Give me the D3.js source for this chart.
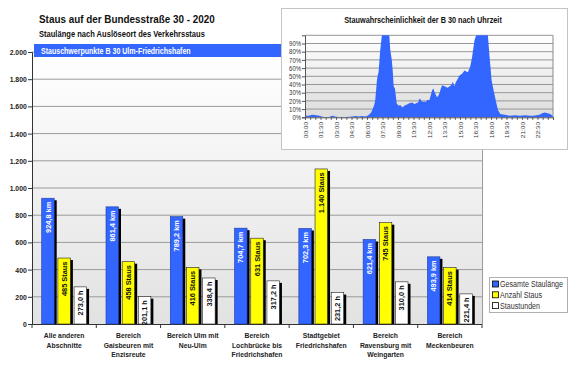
<!DOCTYPE html>
<html><head><meta charset="utf-8">
<script src="https://cdn.jsdelivr.net/npm/d3@7"></script>
<style>body{margin:0;background:#fff} svg{display:block;font-family:"Liberation Sans",Arial,sans-serif}</style>
</head><body><svg id="c" width="578" height="369"></svg>
<script>
// ---------- data ----------
const categories = ["Alle anderen|Abschnitte", "Bereich|Gaisbeuren mit|Enzisreute", "Bereich Ulm mit|Neu-Ulm",
  "Bereich|Lochbrücke bis|Friedrichshafen", "Stadtgebiet|Friedrichshafen", "Bereich|Ravensburg mit|Weingarten", "Bereich|Meckenbeuren"];
const seriesNames = ["Gesamte Staulänge", "Anzahl Staus", "Staustunden"];
const staulaenge = [924.8, 861.4, 789.2, 704.7, 702.3, 621.4, 493.9];
const anzahlStaus = [485, 458, 416, 631, 1140, 745, 414];
const staustunden = [273.0, 201.1, 338.4, 317.2, 231.2, 310.0, 221.4];
const yTicks = [0, 200, 400, 600, 800, 1000, 1200, 1400, 1600, 1800, 2000];

const insetHours = [0, 0.35, 0.7, 1.1, 1.4, 1.6, 1.85, 2.3, 2.6, 2.75, 2.9, 3.2, 4.0, 4.6, 4.9, 5.2, 5.5, 5.8, 6.0,
  6.2, 6.4, 6.55, 6.7, 6.8, 6.96, 7.05, 7.12, 7.28, 7.44, 8.16, 8.25, 8.4, 8.5, 8.58, 8.7, 8.8, 8.87, 9.06, 9.2,
  9.45, 9.6, 9.77, 10.1, 10.4, 10.6, 10.74, 10.95, 11.05, 11.13, 11.25, 11.4, 11.7, 11.85, 12.04, 12.2, 12.3,
  12.43, 12.5, 12.6, 12.75, 12.85, 13.0, 13.15, 13.27, 13.5, 13.65, 13.8, 14.0, 14.14, 14.3, 14.4, 14.47, 14.6,
  14.7, 14.95, 15.2, 15.44, 15.6, 15.76, 15.99, 16.18, 16.4, 16.57, 17.7, 17.86, 18.06, 18.25, 18.45, 18.67,
  18.9, 19.32, 19.8, 20.3, 20.8, 21.3, 21.8, 22.07, 22.4, 22.7, 22.95, 23.2, 23.5, 23.7, 23.85, 24.0];
const insetProb = [2, 2, 3, 2.5, 2, 1, 0.5, 0.5, 1.5, 2, 1, 0.5, 0.5, 1, 1.5, 1, 1.5, 1, 1.5,
  3, 6, 10, 15, 21, 45, 52, 55, 82, 100, 100, 82, 70, 55, 38, 35, 25, 17, 14, 15,
  12, 14, 15, 17, 18, 16, 17, 18, 22, 23, 20, 19, 19, 21, 21, 28, 33,
  35, 32, 29, 25, 25, 29, 35, 39, 38, 37, 36, 38, 39, 43, 40, 38, 43,
  45, 51, 53, 57, 56, 55, 62, 74, 94, 100, 100, 74, 45, 33, 21, 9,
  4, 3, 2, 2.5, 2, 2.5, 2, 2, 2.5, 3, 5, 6, 5, 4, 3, 1];
const insetTimeLabels = ["00:00", "01:30", "03:00", "04:30", "06:00", "07:30", "09:00", "10:30", "12:00", "13:30",
  "15:00", "16:30", "18:00", "19:30", "21:00", "22:30"];
const insetYTicks = [0, 0.1, 0.2, 0.3, 0.4, 0.5, 0.6, 0.7, 0.8, 0.9];

// ---------- setup ----------
const SX = 0.86; // horizontal text compression of the original
const de = d3.formatLocale({decimal: ",", thousands: ".", grouping: [3], currency: ["", "€"]});
const fInt = de.format(",d"), f1 = de.format(",.1f");
const svg = d3.select("#c");
const defs = svg.append("defs");
function grad(id, c1, c2) {
  const g = defs.append("linearGradient").attr("id", id).attr("x1", 0).attr("y1", 0).attr("x2", 0).attr("y2", 1);
  g.append("stop").attr("offset", 0).attr("stop-color", c1);
  g.append("stop").attr("offset", 1).attr("stop-color", c2);
}
grad("bgMain", "#ffffff", "#e2e2e2");
grad("bgInset", "#ffffff", "#dcdcdc");
function ht(sel, x, y, txt) {
  return sel.append("text").attr("transform", `translate(${x},${y}) scale(${SX},1)`).text(txt);
}
const BLUE = "#3366ff", YELLOW = "#ffff00", WHITE = "#ffffff";
const colors = [BLUE, YELLOW, WHITE];

// ---------- titles ----------
ht(svg, 39, 23, "Staus auf der Bundesstraße 30 - 2020").attr("font-size", 11.5).attr("font-weight", "bold").attr("fill", "#111");
ht(svg, 39, 36.5, "Staulänge nach Auslöseort des Verkehrsstaus").attr("font-size", 8.8).attr("font-weight", "bold").attr("fill", "#111");

// ---------- main chart ----------
const L = 32, R = 482, T = 52, B = 324;
const x = d3.scaleBand().domain(categories).range([L, R]).paddingInner(0).paddingOuter(0);
const xs = d3.scaleBand().domain(seriesNames).range([0, x.bandwidth()]).paddingInner(0.228).paddingOuter(0.6);
const y = d3.scaleLinear().domain([0, 2000]).range([B, T]);

svg.append("rect").attr("x", L).attr("y", T).attr("width", R - L).attr("height", B - T).attr("fill", "url(#bgMain)");
svg.append("g").selectAll("line").data(yTicks.slice(1)).join("line")
  .attr("x1", L).attr("x2", R).attr("y1", d => y(d)).attr("y2", d => y(d)).attr("stroke", "#9a9a9a").attr("stroke-width", 1);
svg.append("line").attr("x1", R + 0.5).attr("x2", R + 0.5).attr("y1", T).attr("y2", B).attr("stroke", "#9a9a9a");

// banner
svg.append("rect").attr("x", L + 2).attr("y", 44).attr("width", R - L - 2).attr("height", 13).attr("fill", BLUE);
ht(svg, 41, 53.5, "Stauschwerpunkte B 30 Ulm-Friedrichshafen").attr("font-size", 8.2).attr("font-weight", "bold").attr("fill", "#fff");

// y axis
const yAxis = svg.append("g").attr("transform", `translate(${L},0)`)
  .call(d3.axisLeft(y).tickValues(yTicks).tickSize(4).tickFormat(fInt));
yAxis.select(".domain").attr("stroke", "#333");
yAxis.selectAll(".tick line").attr("stroke", "#333");
yAxis.selectAll(".tick text").attr("font-size", 8).attr("font-weight", "bold").attr("fill", "#222")
  .attr("font-family", "Liberation Sans, Arial, sans-serif").attr("x", -6)
  .attr("transform", `scale(${SX},1)`);

// x axis
const xAxisG = svg.append("g");
xAxisG.append("line").attr("x1", L).attr("x2", R).attr("y1", B + 0.5).attr("y2", B + 0.5).attr("stroke", "#333");
xAxisG.selectAll(".tk").data(d3.range(categories.length + 1)).join("line")
  .attr("x1", i => L + i * x.step()).attr("x2", i => L + i * x.step()).attr("y1", B).attr("y2", B + 4).attr("stroke", "#333");

// bars
const seriesVals = [staulaenge, anzahlStaus, staustunden];
const units = [v => f1(v) + " km", v => fInt(v) + " Staus", v => f1(v) + " h"];
const barData = [];
categories.forEach((c, i) => seriesNames.forEach((s, j) => barData.push({c, s, j, v: seriesVals[j][i]})));
const bw = xs.bandwidth();
const gb = svg.append("g");
gb.selectAll(".sh").data(barData).join("rect")
  .attr("x", d => x(d.c) + xs(d.s) + 2.5).attr("y", d => y(d.v) + 2).attr("width", bw)
  .attr("height", d => B - y(d.v) - 2).attr("fill", "#000");
gb.selectAll(".br").data(barData).join("rect")
  .attr("x", d => x(d.c) + xs(d.s)).attr("y", d => y(d.v)).attr("width", bw)
  .attr("height", d => B - y(d.v)).attr("fill", d => colors[d.j])
  .attr("stroke", d => d.j === 0 ? "#1a3aa0" : "#222").attr("stroke-width", 0.6);
gb.selectAll(".lb").data(barData).join("text")
  .attr("transform", d => `translate(${x(d.c) + xs(d.s) + bw / 2 + 0.3},${y(d.v) + 3.5}) scale(${SX},1) rotate(-90)`)
  .attr("text-anchor", "end").attr("dominant-baseline", "central")
  .attr("font-size", 7.4).attr("font-weight", "bold")
  .attr("fill", d => d.j === 0 ? "#fff" : "#111")
  .text(d => units[d.j](d.v));

// category labels
const cl = svg.append("g").attr("font-size", 7.9).attr("font-weight", "bold").attr("fill", "#222").attr("text-anchor", "middle");
categories.forEach(c => {
  c.split("|").forEach((line, k) => ht(cl, x(c) + x.bandwidth() / 2, 338 + k * 9.5, line));
});

// legend
const lg = svg.append("g");
lg.append("rect").attr("x", 489.5).attr("y", 277.5).attr("width", 78).attr("height", 35).attr("fill", "#fff").attr("stroke", "#b0b0b0");
seriesNames.forEach((s, j) => {
  const cy = 284 + j * 10.8;
  lg.append("rect").attr("x", 492.5).attr("y", cy - 3).attr("width", 6).attr("height", 6).attr("fill", colors[j]).attr("stroke", "#000").attr("stroke-width", 0.8);
  ht(lg, 500, cy + 3, s).attr("font-size", 8.3).attr("fill", "#333");
});

// ---------- inset ----------
const IL = 305, IR = 553, IT = 35.3, IB = 117.3;
const inset = svg.append("g");
inset.append("rect").attr("x", 281.5).attr("y", 8.5).attr("width", 286).attr("height", 141).attr("fill", "#fff").attr("stroke", "#c4c4c4");
ht(inset, 423, 22.5, "Stauwahrscheinlichkeit der B 30 nach Uhrzeit").attr("font-size", 8.5).attr("font-weight", "bold").attr("fill", "#111").attr("text-anchor", "middle");
const xi = d3.scaleLinear().domain([0, 24]).range([IL, IR]);
const yi = d3.scaleLinear().domain([0, 1]).range([IB, IT]);
inset.append("rect").attr("x", IL).attr("y", IT).attr("width", IR - IL).attr("height", IB - IT).attr("fill", "url(#bgInset)");
inset.selectAll(".ig").data(d3.range(1, 11).map(d => d / 10)).join("line")
  .attr("x1", IL).attr("x2", IR).attr("y1", d => yi(d)).attr("y2", d => yi(d)).attr("stroke", "#8c8c8c").attr("stroke-width", 0.9);
inset.append("line").attr("x1", IR).attr("x2", IR).attr("y1", IT).attr("y2", IB).attr("stroke", "#8c8c8c");
const pts = insetHours.map((h, i) => [h, insetProb[i] / 100]);
inset.append("path").datum(pts)
  .attr("d", d3.area().x(d => xi(d[0])).y0(IB).y1(d => yi(Math.min(d[1], 1))))
  .attr("fill", BLUE);
const yiAxis = inset.append("g").attr("transform", `translate(${IL},0)`)
  .call(d3.axisLeft(yi).tickValues(insetYTicks).tickSize(3).tickFormat(d3.format(".0%")));
yiAxis.select(".domain").attr("stroke", "#555");
yiAxis.selectAll(".tick line").attr("stroke", "#555");
yiAxis.selectAll(".tick text").attr("font-size", 7).attr("fill", "#333").attr("x", -4.5)
  .attr("font-family", "Liberation Sans, Arial, sans-serif").attr("transform", `scale(${SX},1)`);
const xiAxis = inset.append("g").attr("transform", `translate(0,${IB})`)
  .call(d3.axisBottom(xi).tickValues(d3.range(0, 24.01, 0.5)).tickSize(2.5).tickFormat(""));
xiAxis.select(".domain").attr("stroke", "#555");
xiAxis.selectAll(".tick line").attr("stroke", "#555");
inset.selectAll(".tl").data(insetTimeLabels).join("text")
  .attr("transform", (d, i) => `translate(${xi(i * 1.5) + 0.5},${IB + 4.5}) scale(${SX},1) rotate(-90)`)
  .attr("text-anchor", "end").attr("dominant-baseline", "central")
  .attr("font-size", 6.6).attr("fill", "#333").text(d => d);
</script></body></html>
